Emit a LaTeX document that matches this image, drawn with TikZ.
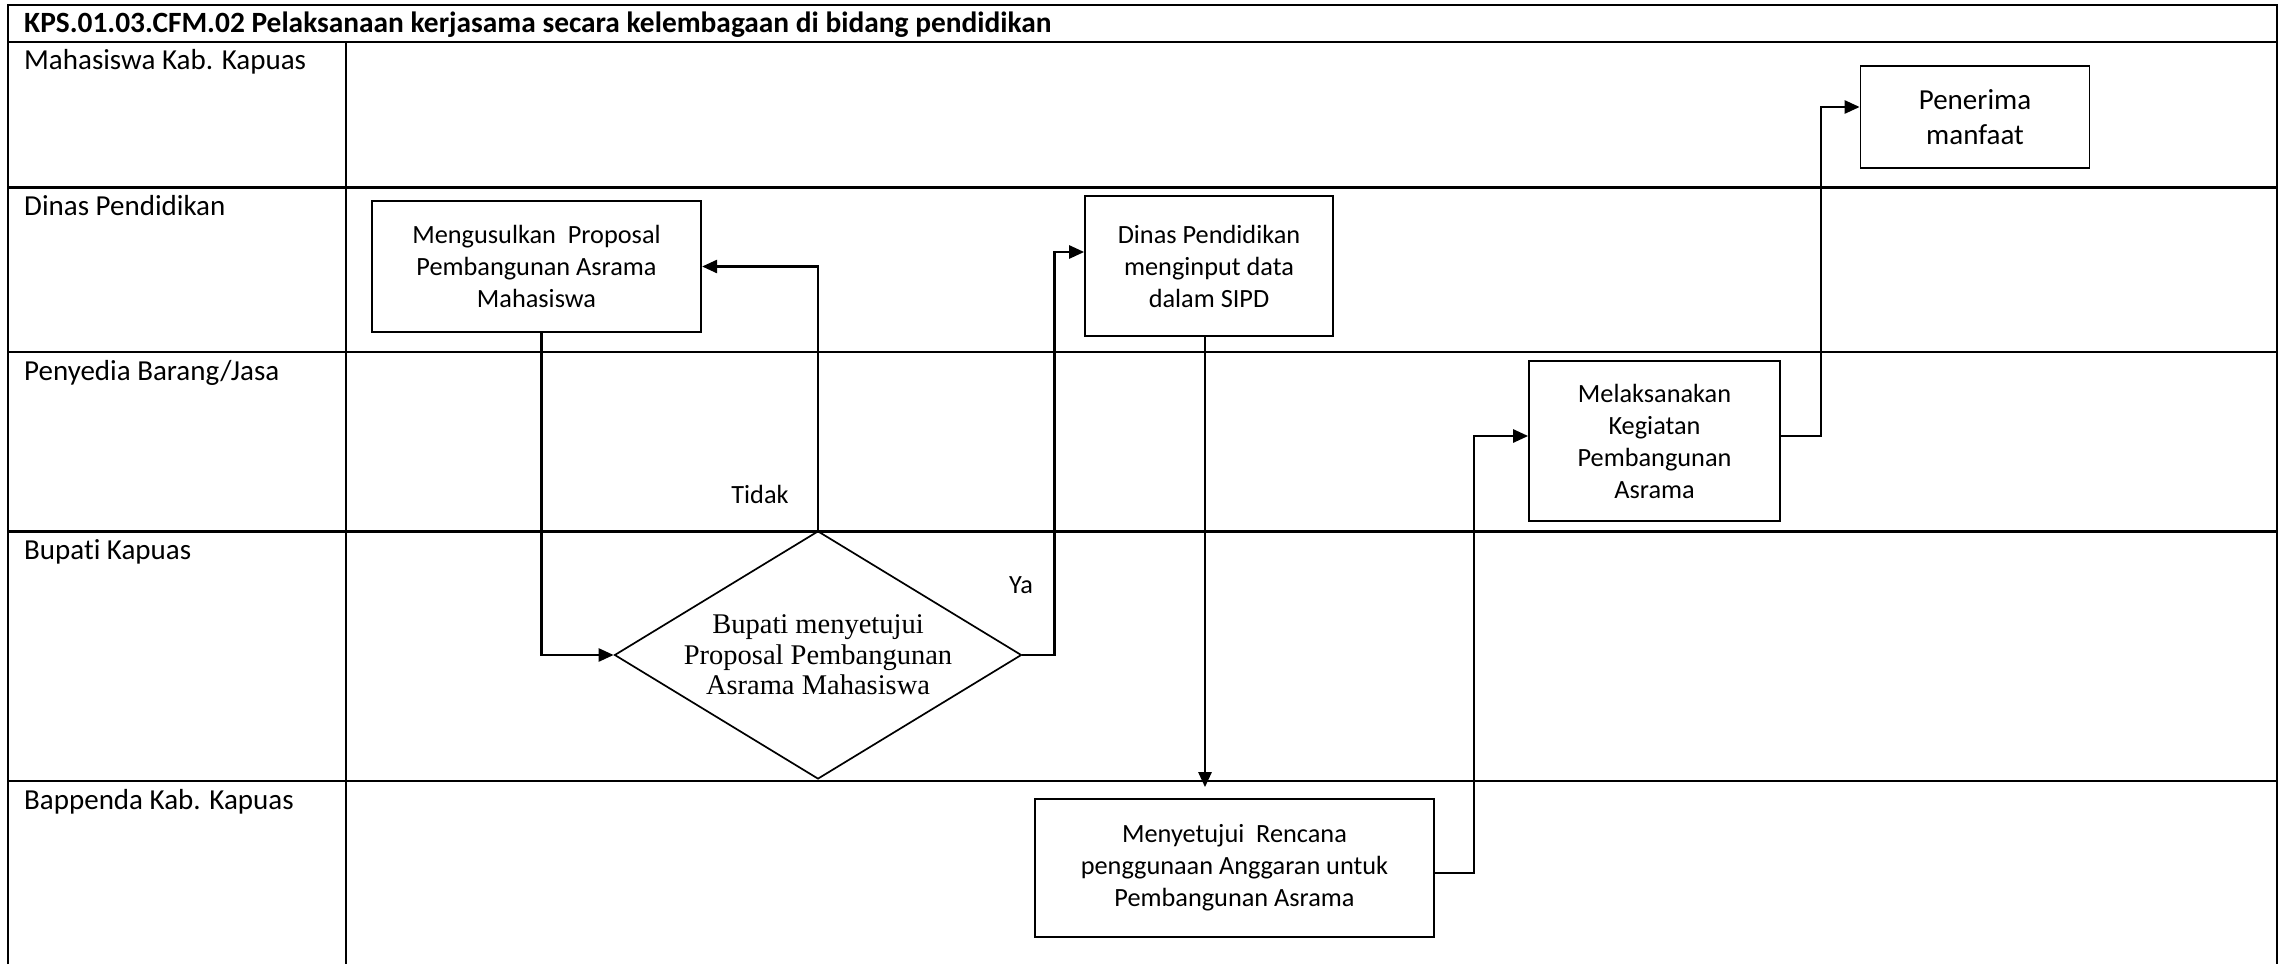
\documentclass[tikz,border=0pt]{standalone}
\usepackage{fontspec}
\setmainfont{Carlito}[Ligatures={NoCommon,NoContextual}]
\newfontfamily\dfont{Liberation Serif}
\usetikzlibrary{arrows.meta,shapes.geometric,calc}
\begin{document}
\begin{tikzpicture}[x=1pt,y=-1pt,
 frame/.style={line width=2.5pt},
 box/.style={draw, line width=1.7pt, inner sep=0pt, align=center, font=\fontsize{26.3}{32}\selectfont},
 conn/.style={line width=2.6pt, -{Triangle[length=15pt,width=13pt]}},
 lane/.style={anchor=base west, inner sep=0pt, font=\fontsize{29}{35}\selectfont},
 lbl/.style={inner sep=0pt, font=\fontsize{26.3}{32}\selectfont},
 dec/.style={draw, diamond, line width=1.7pt, inner sep=0pt, minimum width=407pt, minimum height=248pt},
 dtext/.style={inner sep=0pt, align=center, font=\dfont\fontsize{28.5}{30.5}\selectfont},
]
\useasboundingbox (0,0) rectangle (2284,964);
\fill[white] (0,0) rectangle (2284,964);
% frame
\draw[frame] (8,964) -- (8,5) -- (2277,5) -- (2277,964);
\draw[frame] (8,42) -- (2277,42);
\foreach \y in {187.5,352,531.5,781} \draw[frame] (8,\y) -- (2277,\y);
\draw[frame] (346,42) -- (346,964);
% title and lanes
\node[anchor=base west, inner sep=0pt, font=\bfseries\fontsize{29.4}{35}\selectfont] (title) at (24,32) {KPS.01.03.CFM.02 Pelaksanaan kerjasama secara kelembagaan di bidang pendidikan};
\node[lane] (l1) at (24,69) {Mahasiswa Kab. Kapuas};
\node[lane] (l2) at (24,215.5) {Dinas Pendidikan};
\node[lane] (l3) at (24,380) {Penyedia Barang/Jasa};
\node[lane] (l4) at (24,559.5) {Bupati Kapuas};
\node[lane] (l5) at (24,809) {Bappenda Kab. Kapuas};
% boxes
\node[box, minimum width=329.5pt, minimum height=131pt] (prop) at (536.5,266.5) {Mengusulkan\ \ Proposal\\Pembangunan Asrama\\Mahasiswa};
\node[box, minimum width=248pt, minimum height=140pt] (sipd) at (1209,266) {Dinas Pendidikan\\menginput data\\dalam SIPD};
\node[box, minimum width=229pt, minimum height=102pt, font=\fontsize{29}{35.7}\selectfont] (pen) at (1975,117) {Penerima\\manfaat};
\node[box, minimum width=251pt, minimum height=160pt] (mel) at (1654.5,441) {Melaksanakan\\Kegiatan\\Pembangunan\\Asrama};
\node[box, minimum width=399pt, minimum height=138pt] (ren) at (1234.5,868) {Menyetujui\ \ Rencana\\penggunaan Anggaran untuk\\Pembangunan Asrama};
\node[dec] (d) at (818,655) {};
\node[dtext] (dt) at (818,655) {Bupati menyetujui\\Proposal Pembangunan\\Asrama Mahasiswa};
% labels
\node[lbl] (tidak) at (760,494) {Tidak};
\node[lbl] (ya) at (1021,585) {Ya};
% connectors
\draw[conn] ($(prop.south)+(5,0)$) |- (d.west);
\draw[conn] (d.north) |- (prop.east);
\draw[conn] (d.east) -- ++(32,0) |- ($(sipd.west)+(0,-14)$);
\coordinate (c4) at ($(sipd.south)+(-4,0)$);
\draw[conn, shorten >=11pt] (c4) -- (c4 |- ren.north);
\draw[conn] ($(ren.east)+(0,5)$) -- ++(39,0) |- ($(mel.west)+(0,-5)$);
\draw[conn] ($(mel.east)+(0,-5)$) -- ++(40,0) |- ($(pen.west)+(0,-10)$);
\end{tikzpicture}
\end{document}
